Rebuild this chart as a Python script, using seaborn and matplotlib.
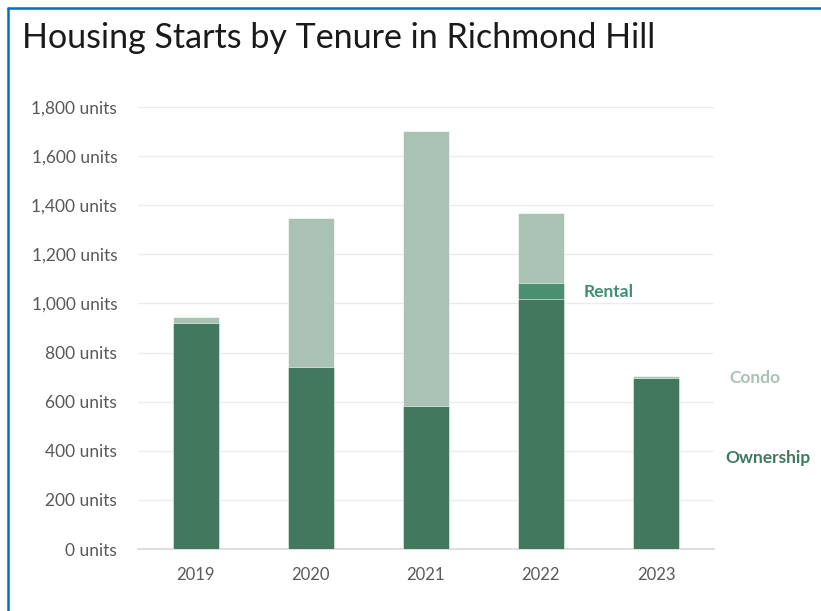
import matplotlib
matplotlib.use("Agg")
import matplotlib.pyplot as plt
from matplotlib.lines import Line2D
from matplotlib.ticker import FuncFormatter
import seaborn as sns
import pandas as pd

# Housing starts by tenure (units)
years = ["2019", "2020", "2021", "2022", "2023"]
ownership = [921, 742, 583, 1017, 695]
rental = [0, 0, 0, 65, 0]
condo = [22, 604, 1120, 285, 11]

c_own = "#41785E"
c_rent = "#4B8F70"
c_condo = "#A9C2B4"

df = pd.DataFrame({"year": years, "ownership": ownership,
                   "rental": rental, "condo": condo})
df["own_rent"] = df["ownership"] + df["rental"]
df["total"] = df["own_rent"] + df["condo"]

sns.set_theme(style="white")
plt.rcParams["font.family"] = ["Lato", "DejaVu Sans"]

fig = plt.figure(figsize=(8.21, 6.11), dpi=100)
ax = fig.add_axes([138 / 821, 1 - 549 / 611, (713.5 - 138) / 821, (549 - 107) / 611])

# Stacked bars: draw cumulative layers from the top segment down
for col, color in [("total", c_condo), ("own_rent", c_rent), ("ownership", c_own)]:
    sns.barplot(data=df, x="year", y=col, color=color, width=0.4,
                saturation=1, ax=ax, edgecolor="white", linewidth=0.4, zorder=3)

ax.set_xlim(-0.5, 4.5)
ax.set_ylim(0, 1800)
ax.set_yticks(range(0, 1801, 200))
ax.yaxis.set_major_formatter(FuncFormatter(lambda v, p: f"{int(v):,} units"))
ax.grid(axis="y", color="#EBEBEB", linewidth=1.0, zorder=0)
ax.grid(axis="x", visible=False)
for s in ["top", "right", "left"]:
    ax.spines[s].set_visible(False)
ax.spines["bottom"].set_color("#D9D9D9")
ax.spines["bottom"].set_linewidth(1.2)
ax.set_xlabel("")
ax.set_ylabel("")
ax.tick_params(axis="y", length=0, pad=15, labelsize=12.5, labelcolor="#595959")
ax.tick_params(axis="x", length=0, pad=13, labelsize=12, labelcolor="#595959")

# Title
fig.text(22 / 821, 1 - 38 / 611, "Housing Starts by Tenure in Richmond Hill",
         fontsize=24.5, color="#1A1A1A", va="center", ha="left")

# Series labels
fig.text(584 / 821, 1 - 292 / 611, "Rental", color="#3E8F73",
         fontsize=12.5, fontweight="bold", va="center", ha="left")
fig.text(729 / 821, 1 - 378 / 611, "Condo", color=c_condo,
         fontsize=12.5, fontweight="bold", va="center", ha="left")
fig.text(725 / 821, 1 - 458 / 611, "Ownership", color="#3E7A5E",
         fontsize=12.5, fontweight="bold", va="center", ha="left")

# Blue frame (left and top edges)
fig.add_artist(Line2D([8 / 821, 8 / 821], [0, 1 - 8 / 611],
                      transform=fig.transFigure, color="#0070C0", linewidth=1.8))
fig.add_artist(Line2D([7.5 / 821, 1], [1 - 8 / 611, 1 - 8 / 611],
                      transform=fig.transFigure, color="#0070C0", linewidth=1.8))

fig.savefig("out.png", dpi=100, facecolor="white")
